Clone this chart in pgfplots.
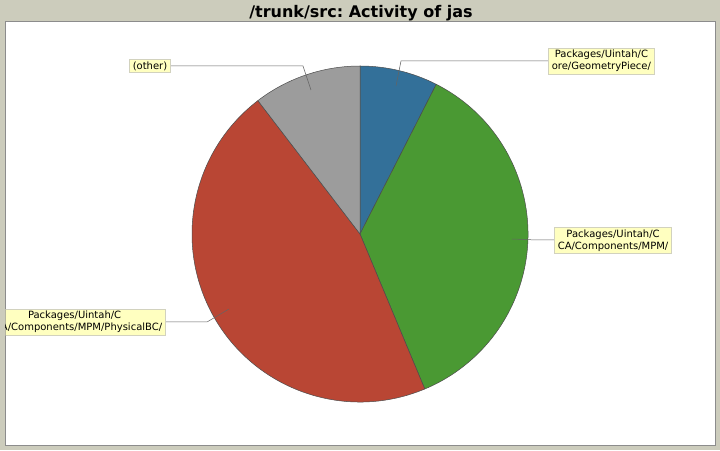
\documentclass[border=0pt]{standalone}
\usepackage{pgfplots}
\pgfplotsset{compat=1.18}
\usepackage{pgfplotstable}
\usepackage{fontspec}
\setmainfont{DejaVu Sans}
\frenchspacing
\definecolor{bg}{RGB}{204,204,188}
\definecolor{frame}{RGB}{140,140,140}
\definecolor{sblue}{RGB}{51,112,153}
\definecolor{sgreen}{RGB}{74,153,51}
\definecolor{sred}{RGB}{185,70,52}
\definecolor{sgray}{RGB}{156,156,156}
\definecolor{lblfill}{RGB}{255,255,192}
\definecolor{lbldraw}{RGB}{210,210,190}
\definecolor{linkc}{RGB}{100,100,100}
\tikzset{lbl/.style={draw=lbldraw, fill=lblfill, line width=0.6pt, font=\fontsize{10}{12}\selectfont, align=center, inner xsep=3.5pt, inner ysep=2pt}}

% slices, clockwise from 12 o'clock (percent of activity)
\pgfplotstableread{
value col
7.5  sblue
36.2 sgreen
45.9 sred
10.4 sgray
}\slices

\begin{document}
\begin{tikzpicture}
\begin{axis}[
  x=1pt, y=1pt,
  xmin=0, xmax=720, ymin=0, ymax=450,
  hide axis, clip=false, disabledatascaling,
]
% background and plot area
\fill[bg] (axis cs:0,0) rectangle (axis cs:720,450);
\fill[white] (axis cs:5,5) rectangle (axis cs:715,428);
\draw[frame, line width=1pt] (axis cs:5,5) rectangle (axis cs:715,428);
\node[font=\bfseries\fontsize{16}{18}\selectfont, anchor=base] at (axis cs:361,432.7) {/trunk/src: Activity of jas};

% pie slices
\def\cum{90}
\pgfplotsforeachungrouped \i in {0,...,3}{%
  \pgfplotstablegetelem{\i}{value}\of\slices \let\v\pgfplotsretval
  \pgfplotstablegetelem{\i}{col}\of\slices \let\c\pgfplotsretval
  \pgfmathsetmacro\e{\cum-3.6*\v}%
  \pgfmathsetmacro\sx{360+168*cos(\cum)}%
  \pgfmathsetmacro\sy{216+168*sin(\cum)}%
  \edef\temp{\noexpand\filldraw[fill=\c, draw=black!70, line width=0.5pt] (axis cs:360,216) -- (axis cs:\sx,\sy) arc[start angle=\cum, end angle=\e, radius=168pt] -- cycle;}%
  \temp
  \global\let\cum\e
}

\begin{scope}
\clip (axis cs:5.5,5.5) rectangle (axis cs:714.5,427.5);
% label links
\draw[linkc, line width=0.5pt] (axis cs:396,364) -- (axis cs:401,389) -- (axis cs:548,389);
\draw[linkc, line width=0.5pt] (axis cs:512,211) -- (axis cs:537,210) -- (axis cs:554,210);
\draw[linkc, line width=0.5pt] (axis cs:229,141) -- (axis cs:207,128) -- (axis cs:166,128);
\draw[linkc, line width=0.5pt] (axis cs:311,360) -- (axis cs:303,384) -- (axis cs:171,384);
% labels
\node[lbl, anchor=west] at (axis cs:548,389) {Packages/Uintah/C\\ore/GeometryPiece/};
\node[lbl, anchor=west] at (axis cs:554,209.5) {Packages/Uintah/C\\CA/Components/MPM/};
\node[lbl, anchor=east] at (axis cs:166,128) {Packages/Uintah/C\\CCA/Components/MPM/PhysicalBC/};
\node[lbl, anchor=east] at (axis cs:171,384) {(other)};
\end{scope}
\end{axis}
\pgfresetboundingbox
\path[use as bounding box] (0,0) rectangle (720pt,450pt);
\end{tikzpicture}
\end{document}
